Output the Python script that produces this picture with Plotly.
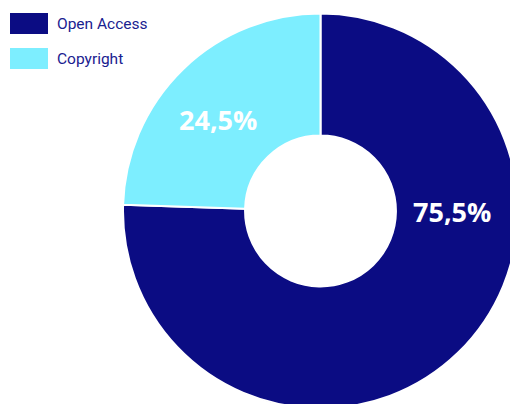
import plotly.graph_objects as go

categories = ["Open Access", "Copyright"]
values = [75.5, 24.5]
value_labels = ["75,5%", "24,5%"]
colors = ["#0B0C83", "#7DEEFF"]

W, H = 530, 420

def px(x):
    return x / W

def py(y):
    return 1 - y / H

cx, cy, R = 320.5, 211, 197.5

fig = go.Figure(go.Pie(
    labels=categories,
    values=values,
    hole=0.382,
    sort=False,
    direction="clockwise",
    rotation=0,
    marker=dict(colors=colors, line=dict(color="white", width=2)),
    textinfo="none",
    hoverinfo="label+percent",
    domain=dict(x=[px(cx - R), px(cx + R)], y=[py(cy + R), py(cy - R)]),
    showlegend=False,
))

# value labels
label_pos = [(452, 211), (217.5, 119)]
for txt, (x, y) in zip(value_labels, label_pos):
    fig.add_annotation(x=px(x), y=py(y), xref="paper", yref="paper",
                       text=txt, showarrow=False, xanchor="center", yanchor="middle",
                       font=dict(family="Open Sans", size=27, color="white", weight="bold"))

# legend
for i, (name, col) in enumerate(zip(categories, colors)):
    top = 13 + i * 35
    fig.add_shape(type="rect", xref="paper", yref="paper",
                  x0=px(10), x1=px(48), y0=py(top + 21), y1=py(top),
                  fillcolor=col, line=dict(width=0))
    fig.add_annotation(x=px(55), y=py(top + 11), xref="paper", yref="paper",
                       text=name, showarrow=False, xanchor="left", yanchor="middle",
                       font=dict(family="Roboto", size=15.5, color="#1A2190"))

fig.update_layout(width=W, height=H, margin=dict(l=0, r=0, t=0, b=0),
                  paper_bgcolor="white", plot_bgcolor="white")

fig.write_html(
    "out.html",
    config={"displayModeBar": False},
    post_script=(
        "document.body.style.margin='0';"
        "document.body.style.overflow='hidden';"
        "document.documentElement.style.overflow='hidden';"
    ),
)
